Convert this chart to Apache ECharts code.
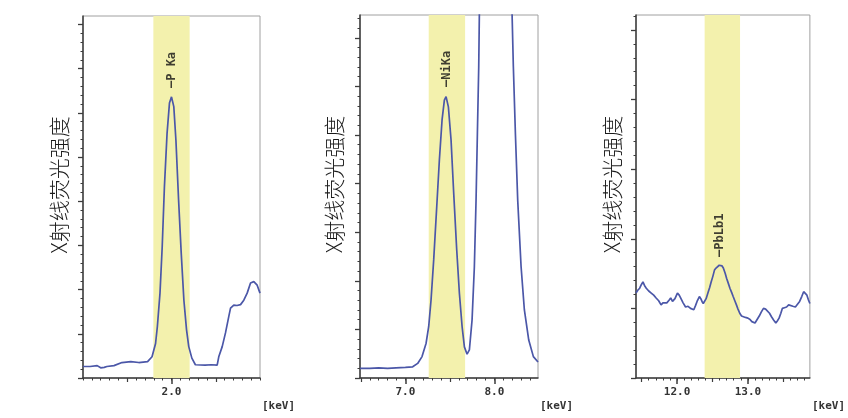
<!DOCTYPE html>
<html><head><meta charset="utf-8">
<script src="https://cdn.jsdelivr.net/npm/echarts@6/dist/echarts.min.js"></script>
<style>html,body{margin:0;padding:0;background:#fff}#c{width:848px;height:418px}</style>
</head><body><div id="c"></div>
<script>
// ---- text ----
const yTitle = 'X射线荧光强度';
const unitLabel = '[keV]';

// ---- panel 1 : P Ka ----
const p1Kev = [1.00,1.08,1.16,1.20,1.24,1.27,1.35,1.44,1.54,1.63,1.73,1.78,1.82,1.84,1.87,1.895,1.92,1.95,1.977,2.00,2.026,2.05,2.08,2.11,2.14,2.17,2.195,2.23,2.27,2.38,2.45,2.516,2.534,2.573,2.61,2.647,2.667,2.704,2.74,2.78,2.817,2.855,2.893,2.93,2.968,3.00];
const p1Int = [0.26,0.26,0.28,0.23,0.24,0.26,0.28,0.35,0.37,0.35,0.37,0.48,0.78,1.16,1.92,2.97,4.33,5.54,6.22,6.36,6.14,5.38,4.03,2.82,1.76,1.09,0.71,0.45,0.30,0.29,0.30,0.29,0.48,0.71,1.02,1.39,1.58,1.65,1.64,1.66,1.76,1.92,2.15,2.18,2.10,1.92];
const p1Range = [1.0, 3.0];
const p1YMax = 8.19;
const p1LabelTicks = [2.0];
const p1HalfTicks = [1.5, 2.5];
const p1Band = [1.795, 2.205];
const p1Peak = ['—P Ka', 2.005, 6.56];

// ---- panel 2 : Ni Ka ----
const p2Kev = [6.49,6.60,6.70,6.80,6.895,7.00,7.082,7.138,7.187,7.232,7.262,7.288,7.318,7.352,7.382,7.412,7.438,7.457,7.483,7.513,7.543,7.577,7.607,7.637,7.663,7.693,7.719,7.749,7.775,7.794,7.809,7.824,7.831,7.86,7.90,7.95,8.015,8.08,8.13,8.17,8.199,8.213,8.236,8.262,8.30,8.337,8.386,8.438,8.49];
const p2Int = [0.20,0.20,0.21,0.20,0.21,0.22,0.23,0.30,0.44,0.71,1.06,1.60,2.43,3.52,4.49,5.31,5.72,5.79,5.58,4.90,3.80,2.63,1.74,1.06,0.64,0.49,0.58,1.19,2.29,3.66,5.03,6.40,7.47,10.5,14,17,18.5,17,13,10,7.47,6.41,5.03,3.66,2.29,1.40,0.78,0.44,0.33];
const p2Range = [6.49, 8.49];
const p2YMax = 7.47;
const p2LabelTicks = [7.0, 8.0];
const p2HalfTicks = [6.5, 7.5];
const p2Band = [7.262, 7.671];
const p2Peak = ['—NiKa', 7.461, 5.99];

// ---- panel 3 : Pb Lb1 ----
const p3Kev = [11.42,11.445,11.472,11.495,11.518,11.54,11.565,11.60,11.635,11.67,11.704,11.74,11.774,11.80,11.82,11.855,11.889,11.91,11.935,11.97,12.005,12.03,12.05,12.085,12.12,12.155,12.19,12.21,12.236,12.26,12.282,12.315,12.335,12.352,12.37,12.389,12.41,12.435,12.46,12.481,12.505,12.528,12.55,12.574,12.595,12.616,12.635,12.653,12.68,12.70,12.72,12.746,12.77,12.792,12.815,12.838,12.86,12.885,12.91,12.93,12.965,13.0,13.03,13.056,13.08,13.10,13.13,13.16,13.19,13.22,13.25,13.278,13.305,13.333,13.365,13.394,13.415,13.44,13.465,13.486,13.515,13.546,13.575,13.60,13.635,13.67,13.70,13.73,13.76,13.787,13.81,13.833,13.855,13.875];
const p3Int = [1.22,1.26,1.29,1.34,1.38,1.33,1.29,1.25,1.22,1.19,1.15,1.11,1.05,1.08,1.10,1.08,1.12,1.15,1.10,1.14,1.22,1.19,1.15,1.08,1.02,1.03,1.00,1.01,0.98,1.04,1.10,1.17,1.14,1.10,1.07,1.05,1.14,1.22,1.30,1.38,1.46,1.55,1.58,1.60,1.62,1.64,1.61,1.58,1.50,1.43,1.37,1.29,1.23,1.17,1.11,1.05,0.99,0.93,0.89,0.87,0.87,0.86,0.84,0.81,0.82,0.79,0.84,0.89,0.95,1.00,0.99,0.98,0.93,0.88,0.83,0.79,0.82,0.86,0.93,1.00,1.01,1.02,1.05,1.05,1.03,1.02,1.06,1.10,1.17,1.24,1.22,1.19,1.12,1.07];
const p3Range = [11.42, 13.875];
const p3YMax = 5.215;
const p3LabelTicks = [12.0, 13.0];
const p3HalfTicks = [11.5, 12.5, 13.5];
const p3Band = [12.389, 12.889];
const p3Peak = ['—PbLb1', 12.61, 1.74];

const panels = [
  {kev:p1Kev, val:p1Int, range:p1Range, ymax:p1YMax, lab:p1LabelTicks, half:p1HalfTicks, band:p1Band, peak:p1Peak,
   grid:{left:83, top:16, width:177, height:362}, nameGap:13},
  {kev:p2Kev, val:p2Int, range:p2Range, ymax:p2YMax, lab:p2LabelTicks, half:p2HalfTicks, band:p2Band, peak:p2Peak,
   grid:{left:360, top:15, width:178, height:363}, nameGap:15},
  {kev:p3Kev, val:p3Int, range:p3Range, ymax:p3YMax, lab:p3LabelTicks, half:p3HalfTicks, band:p3Band, peak:p3Peak,
   grid:{left:636, top:15, width:177, height:363}, nameGap:13}
];

function steps(a, b, s) {
  const out = [];
  const start = Math.ceil(a / s - 1e-9);
  for (let k = start; k * s <= b + 1e-9; k++) out.push(+(k * s).toFixed(3));
  return out;
}

const AX = '#3c3c3c';
const grids = [], xAxes = [], yAxes = [], series = [];
panels.forEach((p, i) => {
  grids.push(Object.assign({show:true, borderColor:'#a0a0a0', borderWidth:1, backgroundColor:'transparent'}, p.grid));
  const xMainIdx = xAxes.length;
  xAxes.push({
    type:'value', gridIndex:i, position:'bottom', min:p.range[0], max:p.range[1],
    axisLine:{show:true, onZero:false, lineStyle:{color:AX, width:1.5}},
    axisTick:{show:true, customValues:p.lab, length:6, lineStyle:{color:AX, width:1.5}},
    axisLabel:{show:true, customValues:p.lab, formatter:v=>v.toFixed(1), margin:9,
      fontFamily:'DejaVu Sans Mono', fontWeight:'bold', fontSize:11, color:'#333'},
    splitLine:{show:false},
    name:unitLabel, nameLocation:'end', nameGap:2,
    nameTextStyle:{fontFamily:'DejaVu Sans Mono', fontWeight:'bold', fontSize:11, color:'#333',
      align:'left', verticalAlign:'top', padding:[23,0,0,0]}
  });
  xAxes.push({
    type:'value', gridIndex:i, position:'bottom', min:p.range[0], max:p.range[1],
    axisLine:{show:false}, axisLabel:{show:false}, splitLine:{show:false},
    axisTick:{show:true, customValues:p.half, length:4, lineStyle:{color:AX, width:1.2}}
  });
  xAxes.push({
    type:'value', gridIndex:i, position:'bottom', min:p.range[0], max:p.range[1],
    axisLine:{show:false}, axisLabel:{show:false}, splitLine:{show:false},
    axisTick:{show:true, customValues:steps(p.range[0], p.range[1], 0.1), length:2.5, lineStyle:{color:AX, width:1}}
  });
  const yMainIdx = yAxes.length;
  yAxes.push({
    type:'value', gridIndex:i, position:'left', min:0, max:p.ymax,
    axisLine:{show:true, onZero:false, lineStyle:{color:AX, width:1.5}},
    axisTick:{show:true, customValues:steps(0, p.ymax, 1), length:5, lineStyle:{color:AX, width:1.3}},
    axisLabel:{show:false}, splitLine:{show:false},
    name:yTitle, nameLocation:'middle', nameGap:p.nameGap, nameRotate:90,
    nameTextStyle:{fontFamily:'Noto Sans CJK SC', fontWeight:300, fontSize:21, color:'#1a1a1a', padding:[0,0,0,24]}
  });
  yAxes.push({
    type:'value', gridIndex:i, position:'left', min:0, max:p.ymax,
    axisLine:{show:false}, axisLabel:{show:false}, splitLine:{show:false},
    axisTick:{show:true, customValues:steps(0, p.ymax, 0.2), length:2.5, lineStyle:{color:AX, width:1}}
  });
  series.push({
    type:'line', xAxisIndex:xMainIdx, yAxisIndex:yMainIdx, showSymbol:false, symbol:'none', clip:true,
    data:p.kev.map((k, j) => [k, p.val[j]]),
    lineStyle:{color:'#4b57a8', width:1.7}, z:5,
    markArea:{silent:true, z:1, itemStyle:{color:'#f3f1ad', opacity:1},
      data:[[{xAxis:p.band[0]}, {xAxis:p.band[1]}]]}
  });
  series.push({
    type:'scatter', xAxisIndex:xMainIdx, yAxisIndex:yMainIdx, symbolSize:1, z:6, silent:true,
    itemStyle:{color:'rgba(0,0,0,0)'},
    data:[[p.peak[1], p.peak[2]]],
    label:{show:true, formatter:p.peak[0], position:'inside', rotate:90, align:'left', verticalAlign:'middle',
      fontFamily:'DejaVu Sans Mono', fontWeight:'bold', fontSize:12, color:'#111'}
  });
});

const chart = echarts.init(document.getElementById('c'), null, {renderer:'canvas'});
chart.setOption({animation:false, backgroundColor:'#fff', grid:grids, xAxis:xAxes, yAxis:yAxes, series:series});
</script></body></html>
